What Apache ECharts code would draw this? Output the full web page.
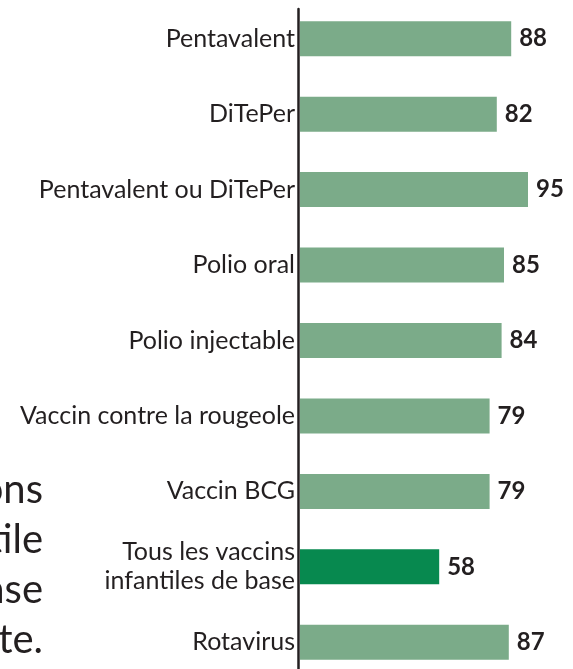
<!DOCTYPE html>
<html>
<head>
<meta charset="utf-8">
<script src="https://cdn.jsdelivr.net/npm/echarts@6/dist/echarts.min.js"></script>
<style>
  html, body { margin: 0; padding: 0; background: #fff; }
  #chart { width: 573px; height: 669px; }
</style>
</head>
<body>
<div id="chart"></div>
<script>
// categories, top to bottom
var categories = ['Pentavalent', 'DiTePer', 'Pentavalent ou DiTePer', 'Polio oral', 'Polio injectable',
  'Vaccin contre la rougeole', 'Vaccin BCG', 'Tous les vaccins\ninfantiles de base', 'Rotavirus']
var values = [88, 82, 95, 85, 84, 79, 79, 58, 87]
var highlight = 'Tous les vaccins\ninfantiles de base'
// cut-off body text on the left of the picture
var sideText = ['ons', 'tile', 'nse', 'te.']

var FONT = 'Lato'
var ink = '#231f20'

var chart = echarts.init(document.getElementById('chart'))

var barData = values.map(function (v, i) {
  return {
    value: v,
    itemStyle: { color: categories[i] === highlight ? '#07894f' : '#7bab89' }
  }
})

var option = {
  animation: false,
  grid: [
    { left: 300, right: 33, top: 1, height: 679, outerBoundsMode: 'none' },
    { left: 298.5, right: 33, top: 9, bottom: 0, outerBoundsMode: 'none' }
  ],
  xAxis: [
    { gridIndex: 0, type: 'value', min: 0, max: 100, show: false },
    { gridIndex: 1, type: 'value', min: 0, max: 100, show: false }
  ],
  yAxis: [
    {
      gridIndex: 0,
      type: 'category',
      inverse: true,
      data: categories,
      axisLine: { show: false },
      axisTick: { show: false },
      axisLabel: {
        margin: 5,
        fontFamily: FONT,
        fontSize: 25,
        lineHeight: 29,
        color: ink
      }
    },
    {
      gridIndex: 1,
      type: 'category',
      data: [''],
      axisLine: { show: true, lineStyle: { color: ink, width: 2.5 } },
      axisTick: { show: false },
      axisLabel: { show: false }
    }
  ],
  graphic: sideText.map(function (t, i) {
    return {
      type: 'text',
      right: 530,
      top: 470 + i * 50,
      style: {
        text: t,
        fontFamily: FONT,
        fontSize: 40,
        fill: ink
      }
    }
  }),
  series: [{
    type: 'bar',
    xAxisIndex: 0,
    yAxisIndex: 0,
    barWidth: 35,
    data: barData,
    label: {
      show: true,
      position: 'right',
      distance: 8,
      fontFamily: FONT,
      fontWeight: 'bold',
      fontSize: 24,
      color: ink
    }
  }]
}

chart.setOption(option)
</script>
</body>
</html>
